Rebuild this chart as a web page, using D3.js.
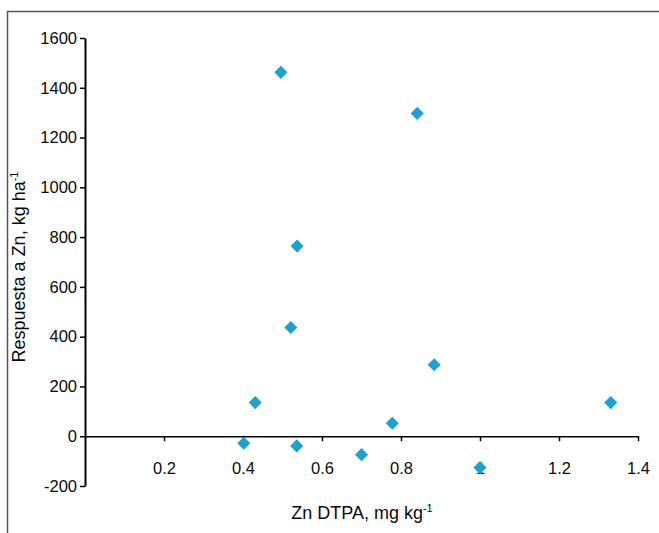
<!DOCTYPE html>
<html>
<head>
<meta charset="utf-8">
<script src="https://cdn.jsdelivr.net/npm/d3@7"></script>
<style>
  body { margin: 0; background: #fff; }
  svg { display: block; font-family: "Liberation Sans", Arial, sans-serif; }
</style>
</head>
<body>
<div class="chart"></div>
<script>
// data
var znDtpa = [0.496, 0.841, 0.537, 0.521, 0.884, 0.431, 0.778, 0.402, 0.536, 0.700, 1.0, 1.331];
var respuesta = [1462, 1297, 764, 437, 287, 135, 52, -28, -39, -74, -126, 135];
var xTicks = [0.2, 0.4, 0.6, 0.8, 1, 1.2, 1.4];
var yTicks = [-200, 0, 200, 400, 600, 800, 1000, 1200, 1400, 1600];

var W = 659, H = 533;
var fmt = function(d) { return String(d); }; // plain hyphen, no commas

var svg = d3.select(".chart")
    .append("svg")
    .attr("width", W)
    .attr("height", H);

// frame
svg.append("rect")
    .attr("x", 7.5).attr("y", 11.5)
    .attr("width", W + 10).attr("height", H + 10)
    .style("fill", "none")
    .style("stroke", "#555")
    .style("stroke-width", 1.5);

var xScale = d3.scaleLinear().domain([0, 1.4]).range([85, 638]);
var yScale = d3.scaleLinear().domain([-200, 1600]).range([486, 38]);

// x axis sits on y = 0
var xAxis = svg.append("g")
    .attr("transform", "translate(0," + yScale(0) + ")")
    .call(d3.axisBottom(xScale).tickValues(xTicks).tickSize(5).tickSizeOuter(0).tickFormat(fmt));
xAxis.attr("font-size", null).attr("font-family", null);
xAxis.select(".domain").attr("stroke", "#000").attr("stroke-width", 1.5);
xAxis.selectAll(".tick line").attr("stroke-width", 1.5);
xAxis.selectAll(".tick text")
    .attr("y", 26)
    .attr("font-size", 16.5)
    .attr("fill", "#0a0a0a");

// y axis at x = 0
var yAxis = svg.append("g")
    .attr("transform", "translate(" + xScale(0) + ",0)")
    .call(d3.axisLeft(yScale).tickValues(yTicks).tickSize(5).tickSizeOuter(0).tickFormat(fmt));
yAxis.attr("font-size", null).attr("font-family", null);
yAxis.select(".domain").attr("stroke", "#000").attr("stroke-width", 2);
yAxis.selectAll(".tick line").attr("stroke-width", 1.5);
yAxis.selectAll(".tick text")
    .attr("x", -8)
    .attr("font-size", 16.5)
    .attr("fill", "#0a0a0a");

// points
var diamond = d3.symbol().type(d3.symbolSquare).size(86);
svg.selectAll(".pt")
    .data(znDtpa)
    .enter()
    .append("path")
    .attr("class", "pt")
    .attr("d", diamond)
    .attr("transform", function(d, i) {
      return "translate(" + xScale(d) + "," + yScale(respuesta[i]) + ") rotate(45)";
    })
    .style("fill", "#18a3d3");

// axis titles
var xt = svg.append("text")
    .attr("x", 362).attr("y", 519)
    .attr("text-anchor", "middle")
    .attr("font-size", 18)
    .attr("fill", "#0a0a0a");
xt.append("tspan").text("Zn DTPA, mg kg");
xt.append("tspan").attr("font-size", 11).attr("dy", -7).text("-1");

var yt = svg.append("text")
    .attr("transform", "translate(25,267) rotate(-90)")
    .attr("text-anchor", "middle")
    .attr("font-size", 18)
    .attr("fill", "#0a0a0a");
yt.append("tspan").text("Respuesta a Zn, kg ha");
yt.append("tspan").attr("font-size", 11).attr("dy", -7).text("-1");
</script>
</body>
</html>
